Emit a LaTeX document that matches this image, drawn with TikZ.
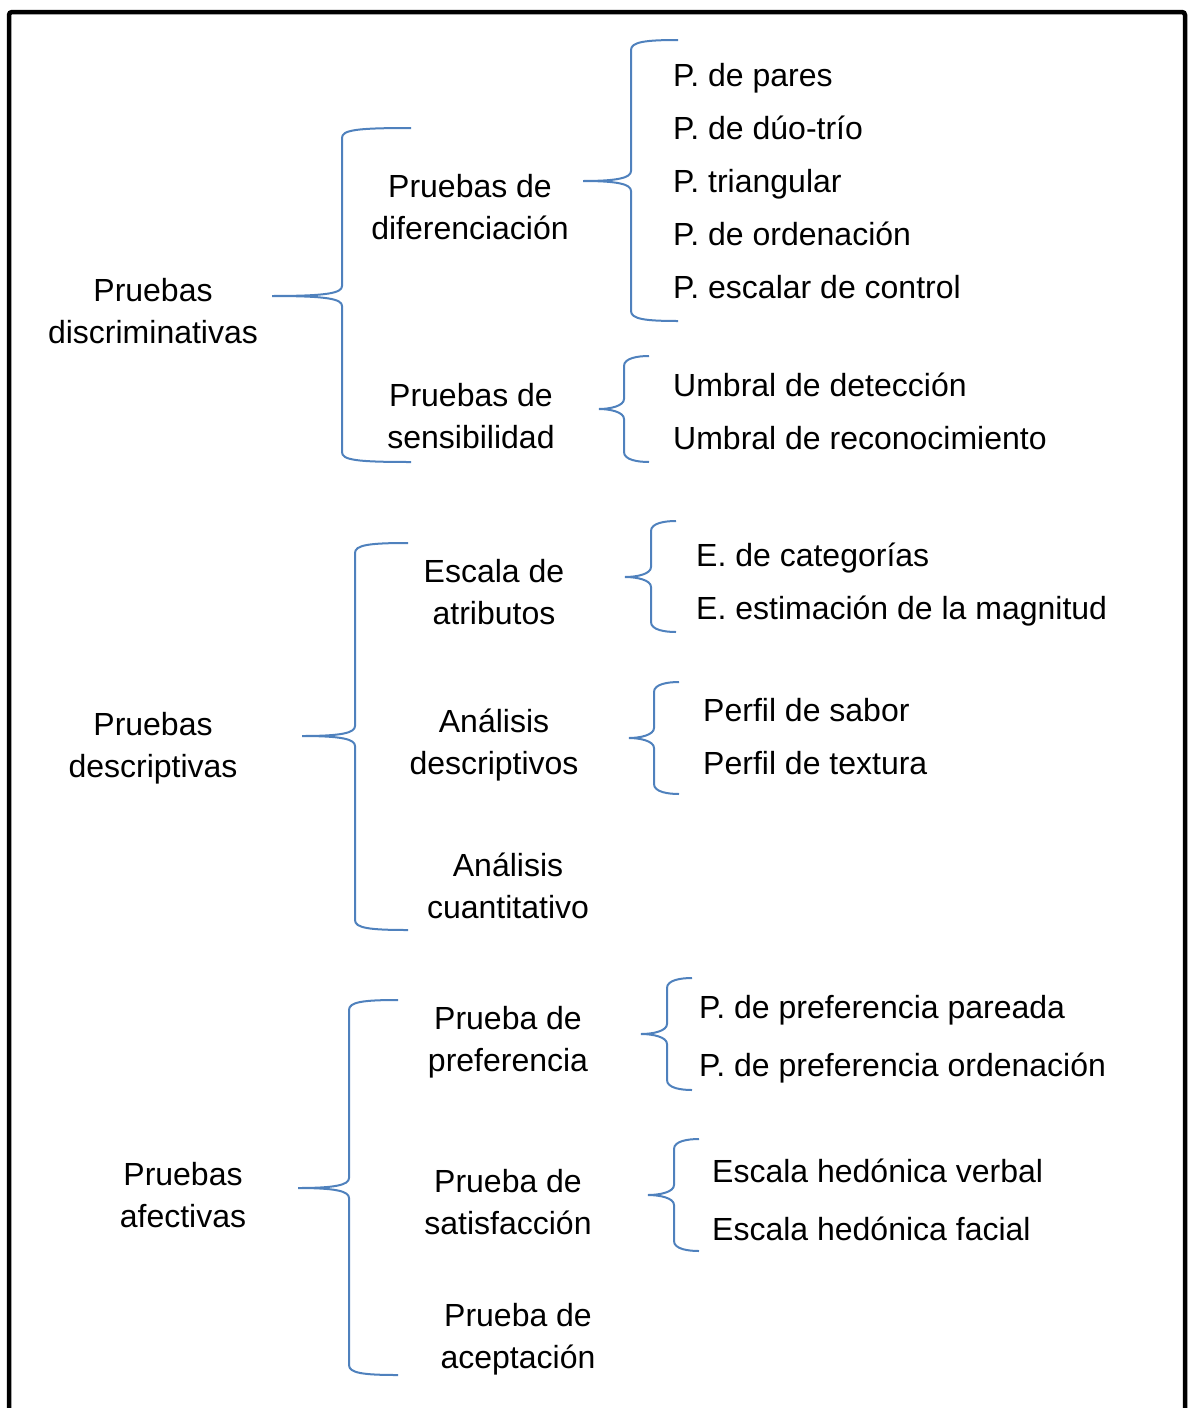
\documentclass[tikz,border=0pt]{standalone}
\usepackage{fontspec}
\setmainfont{Liberation Sans}
\definecolor{llaveazul}{HTML}{4F81BD}
\tikzset{
  llave/.style={draw=llaveazul,line width=2pt},
  grupo/.style={align=center,font=\fontsize{32}{42}\selectfont},
  item/.style={anchor=west,inner sep=0pt,font=\fontsize{32}{42}\selectfont,text height=23pt,text depth=7pt}
}
\begin{document}
\begin{tikzpicture}[x=1pt,y=-1pt]
        \useasboundingbox (0,0) rectangle (1187,1408);
        \draw[line width=4.5pt,rounded corners=3pt] (9,1420) -- (9,12) -- (1185,12) -- (1185,1420);
        % categorias principales
        \node[grupo] (discr) at (153,311) {Pruebas\\discriminativas};
        \node[grupo] (descr) at (153,748) {Pruebas\\descriptivas};
        \node[grupo] (afect) at (183,1195) {Pruebas\\afectivas};
        % subgrupos
        \node[grupo] (difer) at (470,207) {Pruebas de\\diferenciación};
        \node[grupo] (sensi) at (471,416) {Pruebas de\\sensibilidad};
        \node[grupo] (escat) at (494,592) {Escala de\\atributos};
        \node[grupo] (andes) at (494,745) {Análisis\\descriptivos};
        \node[grupo] (ancua) at (508,886) {Análisis\\cuantitativo};
        \node[grupo] (prefe) at (508,1042) {Prueba de\\preferencia};
        \node[grupo] (satis) at (508,1202) {Prueba de\\satisfacción};
        \node[grupo] (acept) at (518,1339) {Prueba de\\aceptación};
        % pruebas
        \node[item] (pares) at (673,78) {P. de pares};
        \node[item] (duotrio) at (673,131) {P. de dúo-trío};
        \node[item] (triang) at (673,184) {P. triangular};
        \node[item] (orden) at (673,237) {P. de ordenación};
        \node[item] (control) at (673,290) {P. escalar de control};
        \node[item] (detec) at (673,388) {Umbral de detección};
        \node[item] (recon) at (673,441) {Umbral de reconocimiento};
        \node[item] (categ) at (696,558) {E. de categorías};
        \node[item] (magni) at (696,611) {E. estimación de la magnitud};
        \node[item] (sabor) at (703,713) {Perfil de sabor};
        \node[item] (textu) at (703,766) {Perfil de textura};
        \node[item] (pareada) at (699,1010) {P. de preferencia pareada};
        \node[item] (ordenac) at (699,1068) {P. de preferencia ordenación};
        \node[item] (verbal) at (712,1174) {Escala hedónica verbal};
        \node[item] (facial) at (712,1232) {Escala hedónica facial};
        % llaves: punta x/y, vertical x, arriba, abajo, extremo x
        \foreach \tx/\ty/\vx/\ya/\yb/\ex in {272/296/342/128/462/411, 583/181/631/40/321/678,
            599/409/624/356/462/649, 302/736/355/543/930/408, 625/577/651/521/632/676,
            629/738/654/682/794/679, 298/1188/349/1000/1375/398, 641/1034/667/978/1090/692,
            648/1195/674/1139/1251/699}
          \draw[llave] (\ex,\ya) .. controls (\vx+14,\ya) and (\vx,\ya+2) .. (\vx,\ya+10)
            -- (\vx,\ty-10) .. controls (\vx,\ty-3) and (\vx-14,\ty) .. (\tx,\ty)
            .. controls (\vx-14,\ty) and (\vx,\ty+3) .. (\vx,\ty+10)
            -- (\vx,\yb-10) .. controls (\vx,\yb-2) and (\vx+14,\yb) .. (\ex,\yb);
    \end{tikzpicture}
\end{document}
